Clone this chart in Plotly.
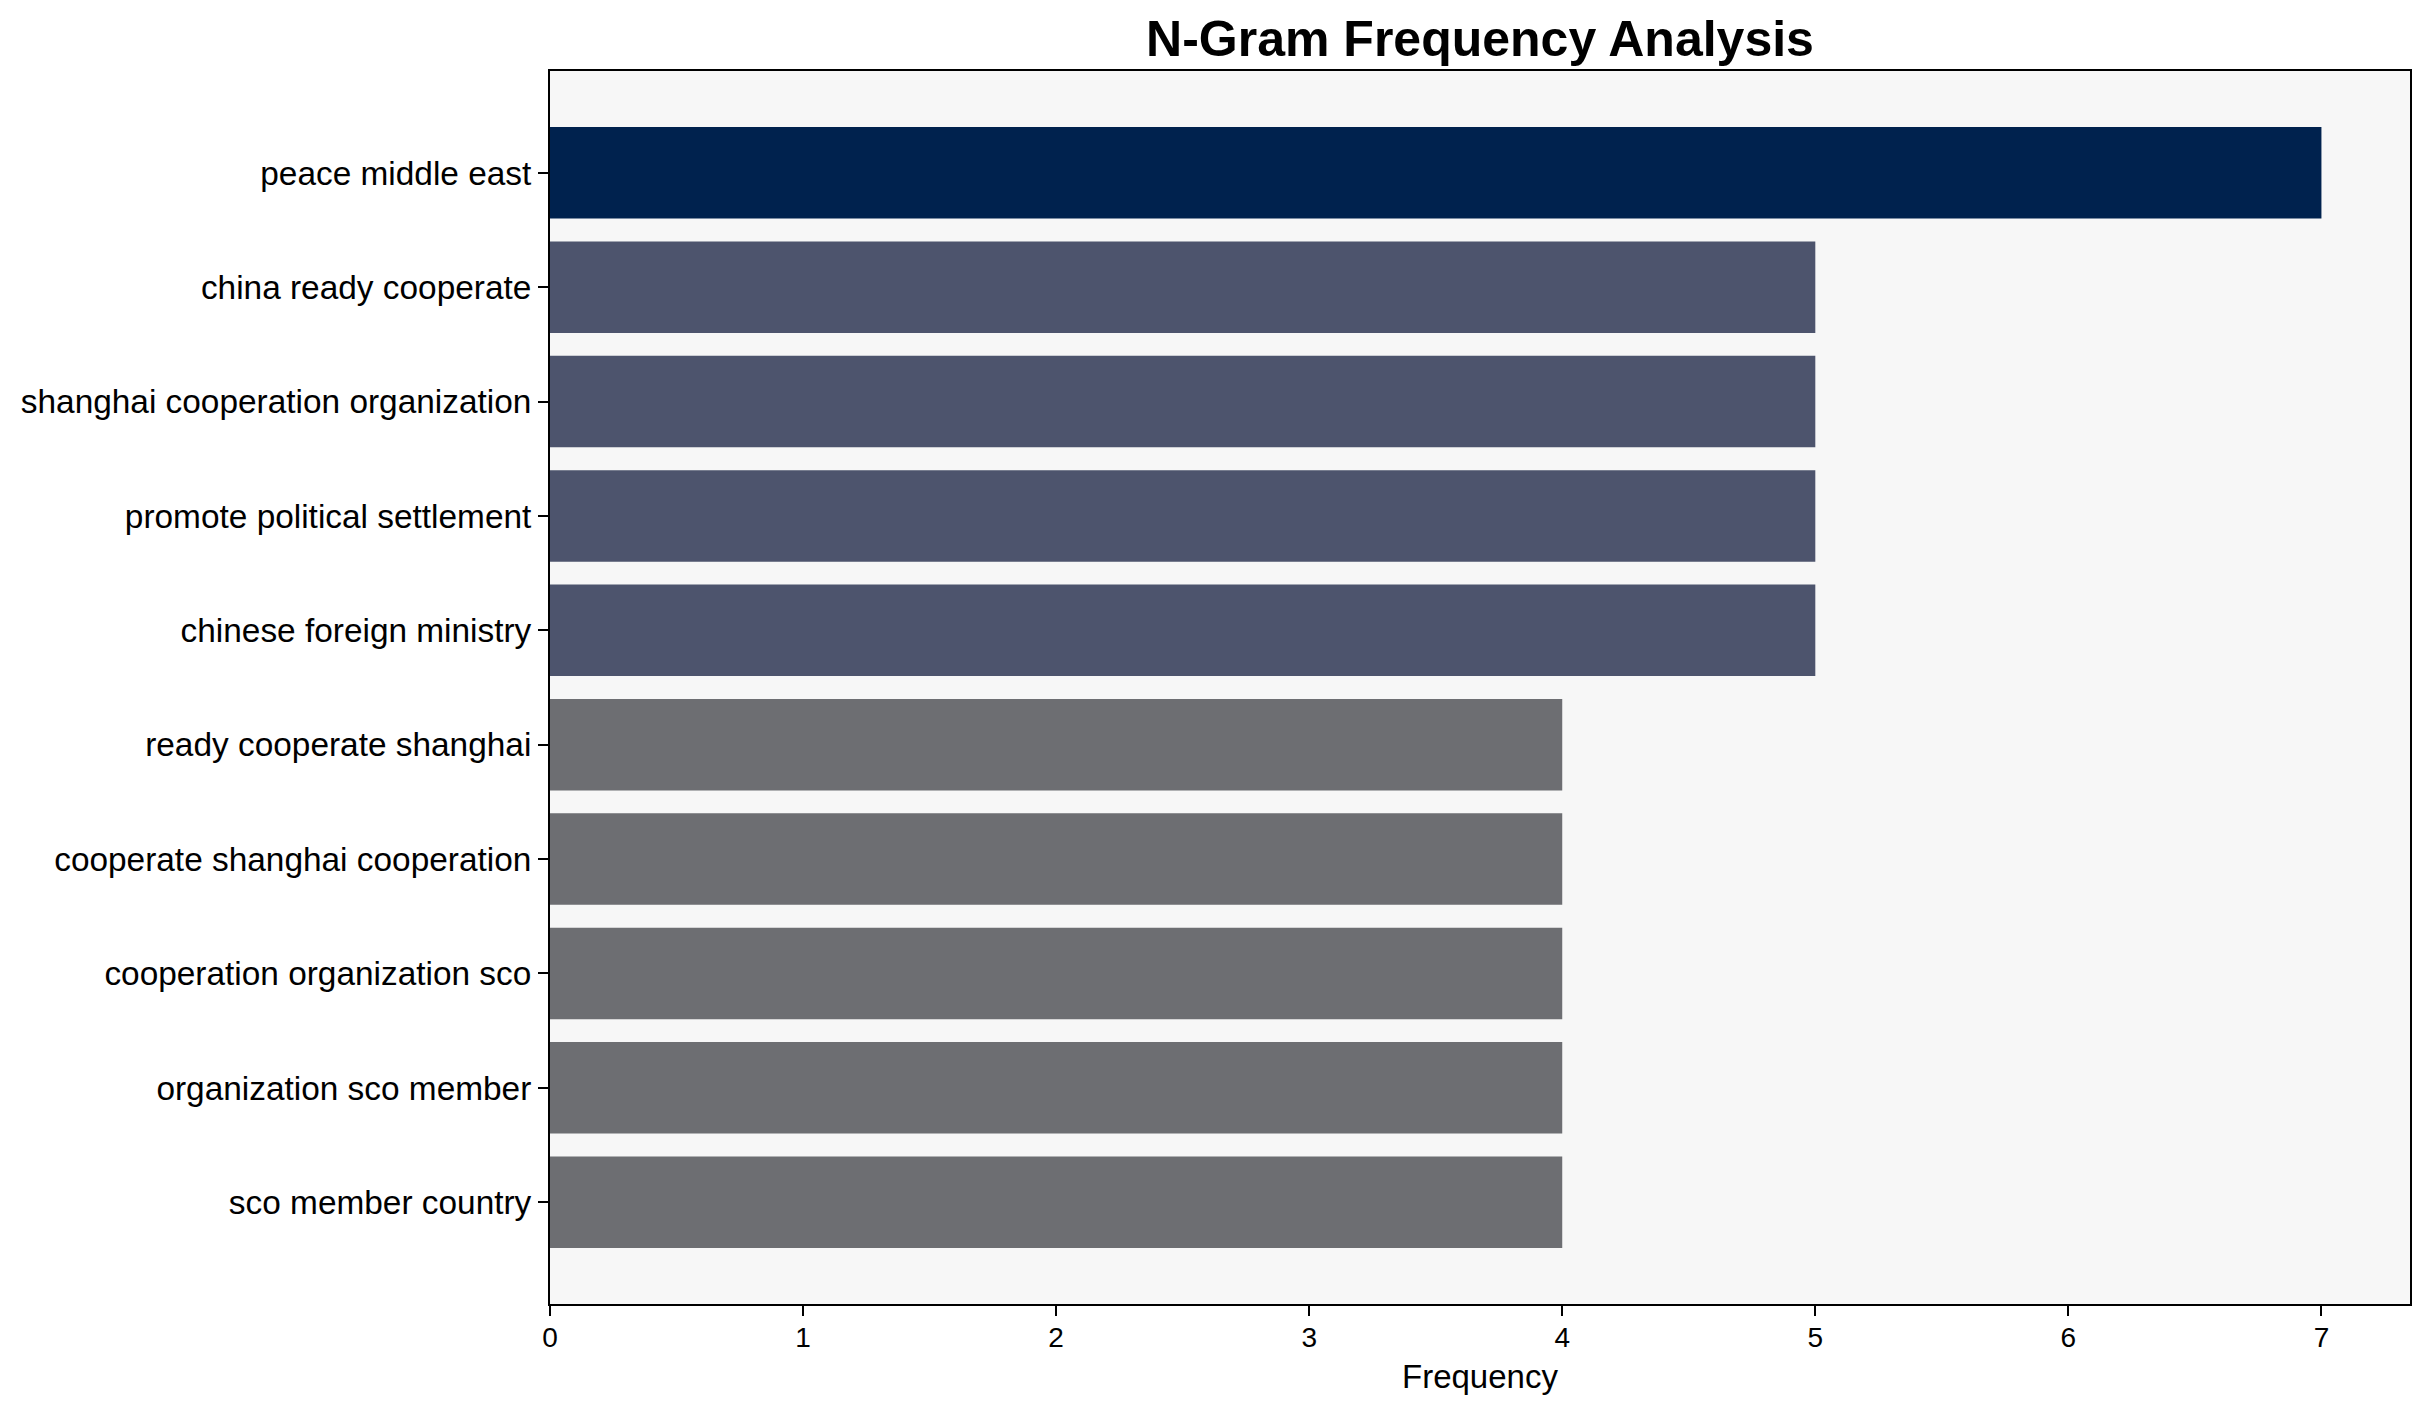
import plotly.graph_objects as go

ngrams = [
    "peace middle east",
    "china ready cooperate",
    "shanghai cooperation organization",
    "promote political settlement",
    "chinese foreign ministry",
    "ready cooperate shanghai",
    "cooperate shanghai cooperation",
    "cooperation organization sco",
    "organization sco member",
    "sco member country",
]
frequencies = [7, 5, 5, 5, 5, 4, 4, 4, 4, 4]
x_ticks = [0, 1, 2, 3, 4, 5, 6, 7]

color_by_value = {7: "#00224e", 5: "#4d546d", 4: "#6d6e72"}
colors = [color_by_value[v] for v in frequencies]

W, H = 2429, 1414
OFF = 8  # default body margin of the html page
L, R, T, B = 550 - OFF, 2410 - OFF, 71 - OFF, 1304 - OFF

fig = go.Figure(
    go.Bar(
        x=frequencies,
        y=ngrams,
        orientation="h",
        marker=dict(color=colors, line=dict(width=0)),
        width=0.8,
    )
)

font_family = "Liberation Sans, Arial, sans-serif"

fig.update_layout(
    width=W,
    height=H,
    margin=dict(l=L, r=W - R, t=T, b=H - B, pad=0),
    paper_bgcolor="white",
    plot_bgcolor="#f7f7f7",
    showlegend=False,
    font=dict(family=font_family, color="black"),
    title=dict(
        text="<b>N-Gram Frequency Analysis</b>",
        font=dict(size=50, family=font_family, color="black"),
        x=0.5,
        xanchor="center",
        xref="paper",
        y=1 - (38 - OFF) / H,
        yanchor="middle",
        yref="container",
    ),
    xaxis=dict(
        range=[0, 7.35],
        tickvals=x_ticks,
        ticktext=[str(t) for t in x_ticks],
        ticks="outside",
        ticklen=10,
        tickwidth=2,
        tickcolor="black",
        tickfont=dict(size=28, family=font_family, color="black"),
        ticklabelstandoff=-3,
        showgrid=False,
        zeroline=False,
        showline=True,
        linecolor="black",
        linewidth=2,
        mirror=True,
    ),
    yaxis=dict(
        type="category",
        categoryorder="array",
        categoryarray=ngrams,
        range=[9.89, -0.89],
        ticks="outside",
        ticklen=10,
        tickwidth=2,
        tickcolor="black",
        tickfont=dict(size=33.4, family=font_family, color="black"),
        showgrid=False,
        zeroline=False,
        showline=True,
        linecolor="black",
        linewidth=2,
        mirror=True,
    ),
    annotations=[
        dict(
            text="Frequency",
            xref="paper",
            yref="paper",
            x=0.5,
            y=(1304 - 1376) / (1304 - 71),
            xanchor="center",
            yanchor="middle",
            showarrow=False,
            font=dict(size=33, family=font_family, color="black"),
        )
    ],
)

fig.write_html("out.html")
